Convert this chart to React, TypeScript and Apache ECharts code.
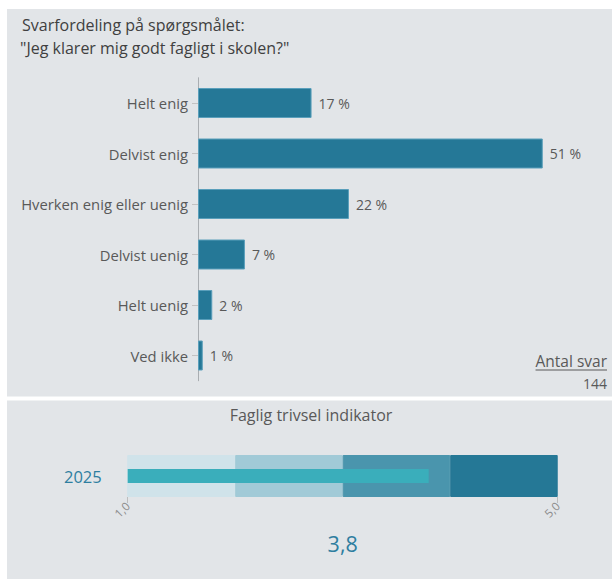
import React, { useEffect, useRef } from "react";
import * as echarts from "echarts";

const titleLines = ["Svarfordeling på spørgsmålet:", "\"Jeg klarer mig godt fagligt i skolen?\""];
const categories = ["Helt enig", "Delvist enig", "Hverken enig eller uenig", "Delvist uenig", "Helt uenig", "Ved ikke"];
const shares = [16.7, 50.7, 22.2, 6.9, 2.1, 0.7];
const responseLabel = "Antal svar";
const responseCount = 144;

const indicatorTitle = "Faglig trivsel indikator";
const indicatorYears = ["2025"];
const indicatorValues = [3.8];
const indicatorMin = 1;
const indicatorMax = 5;
const bandEdges = [2, 3, 4, 5];
const bandColors = ["#d0e3ea", "#a1cad7", "#4a95ad", "#257896"];

const FONT = "'Open Sans', Lato, sans-serif";
const PANEL = "#e2e5e8";
const TEXT = "#595959";
const BLUE = "#2e7ea0";

function measure(text: string, size: number) {
  const c = document.createElement("canvas").getContext("2d");
  if (!c) return text.length * size * 0.5;
  c.font = `${size}px 'Open Sans'`;
  return c.measureText(text).width;
}

export default function App() {
  const ref = useRef<HTMLDivElement>(null);
  useEffect(() => {
    if (!ref.current) return;
    const chart = echarts.init(ref.current, null, { renderer: "svg" });
    const fmt = (v: number) => v.toFixed(1).replace(".", ",");
    const bandIncrements = bandEdges.map((e, i) => (i === 0 ? e : e - bandEdges[i - 1]));
    const g1 = { left: 127.7, top: 455, width: 430, height: 42 };
    const antalW = measure(responseLabel, 15.5);

    const option: any = {
      animation: false,
      backgroundColor: "#ffffff",
      textStyle: { fontFamily: FONT },
      graphic: [
        { type: "rect", z: -10, silent: true, shape: { x: 7, y: 9, width: 605, height: 387.5 }, style: { fill: PANEL } },
        { type: "rect", z: -10, silent: true, shape: { x: 7, y: 400.5, width: 605, height: 178.5 }, style: { fill: PANEL } },
        { type: "text", x: 22, y: 25, style: { text: titleLines[0], fill: "#404040", font: `16px ${FONT}`, align: "left", verticalAlign: "middle" } },
        { type: "text", x: 20, y: 48, style: { text: titleLines[1], fill: "#404040", font: `16px ${FONT}`, align: "left", verticalAlign: "middle" } },
        { type: "text", x: 607, y: 361, style: { text: responseLabel, fill: TEXT, font: `15.5px ${FONT}`, align: "right", verticalAlign: "middle" } },
        { type: "line", shape: { x1: 607 - antalW, y1: 370, x2: 607, y2: 370 }, style: { stroke: TEXT, lineWidth: 1 } },
        { type: "text", x: 607, y: 383, style: { text: String(responseCount), fill: TEXT, font: `14px ${FONT}`, align: "right", verticalAlign: "middle" } },
        { type: "text", x: 311, y: 415, style: { text: indicatorTitle, fill: TEXT, font: `16px ${FONT}`, align: "center", verticalAlign: "middle" } },
        { type: "text", x: g1.left + g1.width / 2, y: 543, style: { text: fmt(indicatorValues[0]), fill: BLUE, font: `21.5px ${FONT}`, align: "center", verticalAlign: "middle" } },
      ],
      grid: [
        { left: 198, top: 77.75, width: 408, height: 303, containLabel: false },
        { left: g1.left, top: g1.top, width: g1.width, height: g1.height, containLabel: false },
      ],
      xAxis: [
        { type: "value", gridIndex: 0, min: 0, max: 60, show: false },
        {
          type: "value", gridIndex: 1, min: indicatorMin, max: indicatorMax, interval: 4,
          axisLine: { show: false },
          axisTick: { show: true, length: 6, lineStyle: { color: "#bdbdbd" } },
          axisLabel: { rotate: 45, fontSize: 11.5, color: "#8c8c8c", margin: 7, formatter: (v: number) => fmt(v) },
          splitLine: { show: false },
        },
      ],
      yAxis: [
        {
          type: "category", gridIndex: 0, data: categories, inverse: true,
          axisLine: { show: true, lineStyle: { color: "#a9adb1", width: 1 } },
          axisTick: { show: true, length: 6, alignWithLabel: true, lineStyle: { color: "#c2c2c2" } },
          axisLabel: { margin: 10, color: TEXT, fontSize: 14.8 },
        },
        {
          type: "category", gridIndex: 1, data: indicatorYears,
          axisLine: { show: false }, axisTick: { show: false },
          axisLabel: { margin: 26, color: BLUE, fontSize: 16.5, fontWeight: 500 },
        },
        { type: "category", gridIndex: 1, data: indicatorYears, show: false },
      ],
      series: [
        {
          type: "bar", xAxisIndex: 0, yAxisIndex: 0, data: shares, barWidth: 30,
          itemStyle: { color: "#257897", borderColor: "#5a9fbb", borderWidth: 1 },
          label: { show: true, position: "right", distance: 7, color: TEXT, fontSize: 14, formatter: (p: any) => `${Math.round(p.value)} %` },
        },
        ...bandIncrements.map((v, i) => ({
          type: "bar", xAxisIndex: 1, yAxisIndex: 1, stack: "bands", data: [v], barWidth: 42,
          itemStyle: { color: bandColors[i], borderColor: bandColors[i], borderWidth: 1 },
          silent: true,
        })),
        {
          type: "bar", xAxisIndex: 1, yAxisIndex: 2, data: indicatorValues, barWidth: 14, z: 5,
          itemStyle: { color: "#3aaebb" },
        },
      ],
    };
    chart.setOption(option);
    return () => chart.dispose();
  }, []);
  return <div ref={ref} style={{ position: "absolute", left: 0, top: 0, width: 612, height: 579 }} />;
}
